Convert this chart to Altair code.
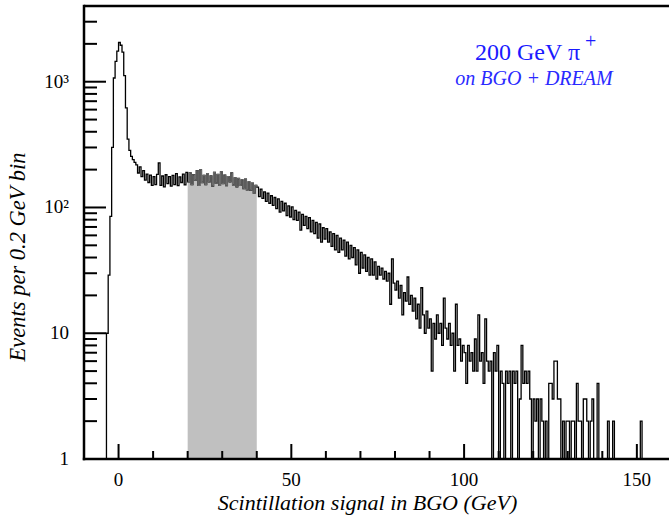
import math
import altair as alt
import pandas as pd

# ---------------- data (counts per bin) ----------------
bin_start = -3.5
bin_width = 0.5

# -3.5 .. 4.5 GeV
peak_counts = [10, 29, 85, 300, 1070, 1450, 1750, 2050, 1950, 1720,
               1120, 620, 350, 285, 255, 240, 228]
# 5.0 .. 19.5 GeV
plateau_counts = [218, 188, 210, 176, 196, 165, 184, 158, 181, 150,
                  176, 152, 183, 226, 150, 178, 146, 182, 155, 176,
                  148, 180, 152, 186, 149, 175, 158, 184, 151, 190]
# 20.0 .. 39.5 GeV (shaded window)
gray_counts = [160, 188, 152, 182, 165, 196, 150, 199, 158, 180,
               152, 186, 160, 178, 148, 190, 156, 183, 150, 192,
               155, 181, 149, 176, 160, 188, 151, 172, 146, 170,
               150, 166, 141, 168, 138, 160, 137, 156, 130, 150]
# 40.0 .. 74.5 GeV
slope_counts = [145, 122, 140, 118, 133, 112, 130, 108, 124, 104,
                120, 98, 117, 92, 112, 94, 108, 86, 103, 84,
                101, 80, 95, 79, 92, 66, 88, 72, 85, 68,
                83, 64, 79, 62, 76, 57, 74, 53, 69, 56,
                68, 53, 64, 49, 62, 46, 60, 44, 57, 46,
                55, 41, 53, 39, 50, 40, 48, 35, 46, 30,
                44, 33, 42, 31, 40, 29, 39, 29, 37, 27]
# 75.0 .. 104.5 GeV
fall_counts = [34, 29, 33, 27, 31, 26, 30, 17, 39, 25,
               22, 26, 19, 24, 14, 21, 18, 28, 17, 20,
               15, 19, 13, 17, 11, 23, 14, 10, 15, 11,
               13, 5, 12, 9, 14, 10, 12, 8, 19, 11,
               9, 12, 8, 10, 5, 17, 8, 9, 6, 8,
               7, 4, 8, 6, 7, 5, 9, 5, 14, 6]
# 105.0 .. 151.5 GeV
tail_counts = [7, 4, 13, 6, 5, 6, 1, 7, 5, 8,
               1, 5, 4, 1, 5, 4, 5, 1, 5, 4,
               5, 1, 3, 8, 4, 5, 4, 5, 3, 1,
               3, 2, 3, 1, 3, 2, 1, 2, 1, 4,
               4, 3, 6, 6, 3, 3, 1, 2, 1, 2,
               2, 1, 2, 2, 1, 4, 2, 2, 1, 3,
               3, 2, 1, 2, 3, 1, 1, 4, 1, 1,
               1, 1, 1, 2, 1, 1, 2, 1, 1, 1,
               1, 1, 1, 1, 1, 1, 1, 1, 1, 1,
               1, 1, 2, 1]

window_lo, window_hi = 20, 40

x_major = [0, 50, 100, 150]
x_labels = ["0", "50", "100", "150"]
x_minor = [10, 20, 30, 40, 60, 70, 80, 90, 110, 120, 130, 140]
y_major = [1, 10, 100, 1000]
y_labels = ["1", "10", "10²", "10³"]
y_minor = [2, 3, 4, 5, 6, 7, 8, 9,
           20, 30, 40, 50, 60, 70, 80, 90,
           200, 300, 400, 500, 600, 700, 800, 900,
           2000, 3000]

x_title = "Scintillation signal in BGO (GeV)"
y_title = "Events per 0.2 GeV bin"
beam_label = "200 GeV π"
beam_charge = "+"
setup_label = "on BGO + DREAM"

# ---------------- layout constants ----------------
W, H = 585, 453
X_DOMAIN = [-10, 159.3]
Y_DOMAIN = [1, 4000]
FONT = "Liberation Serif"

# ---------------- tables ----------------
counts = (peak_counts + plateau_counts + gray_counts + slope_counts
          + fall_counts + tail_counts)
rows = [{"x": bin_start, "n": 1, "i": 0, "k": "hist", "sw": 1.3}]
for k, c in enumerate(counts):
    rows.append({"x": bin_start + bin_width * k, "n": c, "i": k + 1,
                 "k": "hist", "sw": 1.3})
rows.append({"x": bin_start + bin_width * len(counts), "n": 1,
             "i": len(counts) + 1, "k": "hist", "sw": 1.3})
hist = pd.DataFrame(rows)
hist["base"] = 1
win = hist[(hist["x"] >= window_lo) & (hist["x"] <= window_hi)].reset_index(drop=True)

# inward tick segments, drawn in the same line layer as the histogram
decade_px = H / (math.log10(Y_DOMAIN[1]) - math.log10(Y_DOMAIN[0]))
gev_per_px = (X_DOMAIN[1] - X_DOMAIN[0]) / W
tick_rows = []
for vals, length, tag in ((x_major, 15, "xM"), (x_minor, 8, "xm")):
    for v in vals:
        key = f"{tag}{v}"
        tick_rows.append({"x": v, "n": Y_DOMAIN[0], "i": 0, "k": key, "sw": 2})
        tick_rows.append({"x": v, "n": Y_DOMAIN[0] * 10 ** (length / decade_px),
                          "i": 1, "k": key, "sw": 2})
for vals, length, tag in ((y_major, 22, "yM"), (y_minor, 13, "ym")):
    for v in vals:
        key = f"{tag}{v}"
        tick_rows.append({"x": X_DOMAIN[0], "n": v, "i": 0, "k": key, "sw": 2})
        tick_rows.append({"x": X_DOMAIN[0] + length * gev_per_px, "n": v,
                          "i": 1, "k": key, "sw": 2})
lines_df = pd.concat([hist[["x", "n", "i", "k", "sw"]], pd.DataFrame(tick_rows)],
                     ignore_index=True)

xmaj_df = pd.DataFrame({"xl": x_major, "xs": x_labels})
ymaj_df = pd.DataFrame({"yl": y_major, "ys": y_labels})

xscale = alt.Scale(domain=X_DOMAIN, nice=False, zero=False)
yscale = alt.Scale(type="log", domain=Y_DOMAIN, nice=False)


def X(field):
    return alt.X(field, scale=xscale, axis=None)


def Y(field):
    return alt.Y(field, scale=yscale, axis=None)


area = alt.Chart(win).mark_area(interpolate="step-after", color="#c0c0c0",
                                opacity=1).encode(
    x=X("x:Q"),
    y=alt.Y("n:Q", scale=yscale, axis=None, stack=None),
    y2="base:Q",
)

line = alt.Chart(lines_df).mark_line(interpolate="step-after", color="black",
                                     strokeCap="butt").encode(
    x=X("x:Q"), y=Y("n:Q"), detail="k:N", order="i:Q",
    strokeWidth=alt.StrokeWidth("sw:Q", scale=None, legend=None))

line_win = alt.Chart(win).mark_line(interpolate="step-after", color="#6a6a6a",
                                    strokeWidth=1.1).encode(
    x=X("x:Q"), y=Y("n:Q"), order="i:Q")

one = pd.DataFrame({"a": [0]})

frame_top = alt.Chart(one).mark_rule(color="black", strokeWidth=2.5).encode(
    y=alt.value(0), x=alt.value(0), x2=alt.value(W))
frame_left = alt.Chart(one).mark_rule(color="black", strokeWidth=2.5).encode(
    x=alt.value(0), y=alt.value(-1.2), y2=alt.value(H + 1.2))
frame_bottom = alt.Chart(one).mark_rule(color="black", strokeWidth=2.5).encode(
    y=alt.value(H), x=alt.value(-1.2), x2=alt.value(W))

xlab = alt.Chart(xmaj_df).mark_text(
    font=FONT, fontSize=19, color="black", align="center",
    baseline="alphabetic").encode(x=X("xl:Q"), y=alt.value(H + 27), text="xs:N")
ylab = alt.Chart(ymaj_df).mark_text(
    font=FONT, fontSize=19, color="black", align="right",
    baseline="middle").encode(y=Y("yl:Q"), x=alt.value(-15), text="ys:N")

xtitle = alt.Chart(one).mark_text(
    text=x_title, font=FONT, fontSize=22, fontStyle="italic", color="black",
    align="center", baseline="alphabetic").encode(
    x=alt.value(283.5), y=alt.value(H + 51))
ytitle = alt.Chart(one).mark_text(
    text=y_title, font=FONT, fontSize=22.5, fontStyle="italic", color="black",
    align="center", baseline="alphabetic", angle=270).encode(
    x=alt.value(-59), y=alt.value(251))

label_main = alt.Chart(one).mark_text(
    text=beam_label, font=FONT, fontSize=24, color="#1a1aff",
    align="left", baseline="alphabetic").encode(x=alt.value(391), y=alt.value(54))
label_plus = alt.Chart(one).mark_text(
    text=beam_charge, font=FONT, fontSize=20, color="#1a1aff",
    align="left", baseline="alphabetic").encode(x=alt.value(501), y=alt.value(42))
label_sub = alt.Chart(one).mark_text(
    text=setup_label, font=FONT, fontSize=20, fontStyle="italic",
    color="#2a2aff", align="center", baseline="alphabetic").encode(
    x=alt.value(450), y=alt.value(79))

chart = alt.layer(
    area, line, line_win,
    frame_top, frame_left, frame_bottom,
    xlab, ylab, xtitle, ytitle,
    label_main, label_plus, label_sub,
).properties(
    width=W, height=H,
    padding={"left": 84, "top": 6, "right": 0, "bottom": 69},
    autosize=alt.AutoSizeParams(type="none"),
    background="white",
).configure_view(stroke=None)

chart.save("out.html", embed_options={"renderer": "svg", "actions": False})
